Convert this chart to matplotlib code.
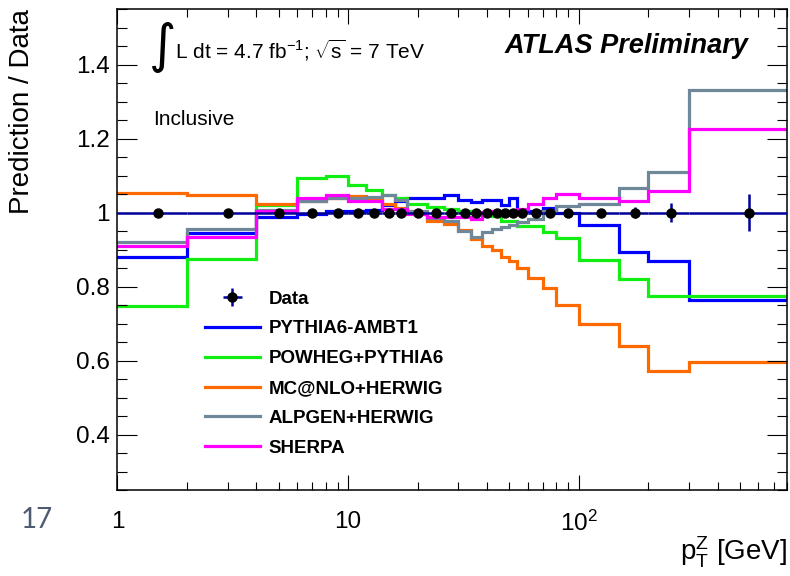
import numpy as np
import matplotlib
matplotlib.use("Agg")
import matplotlib.pyplot as plt
from matplotlib.ticker import MultipleLocator, LogLocator, FuncFormatter, NullFormatter

plt.rcParams['font.family'] = ['Liberation Sans', 'DejaVu Sans']
plt.rcParams['mathtext.fontset'] = 'custom'
plt.rcParams['mathtext.rm'] = 'Liberation Sans'
plt.rcParams['mathtext.it'] = 'Liberation Sans:italic'
plt.rcParams['mathtext.bf'] = 'Liberation Sans:bold'

# pT(Z) bin edges in GeV
edges = [0, 2, 4, 6, 8, 10, 12, 14, 16, 18, 22, 26, 30, 34, 38, 42, 46, 50,
         54, 60, 70, 80, 100, 150, 200, 300, 800]

# data points (ratio to itself) and their errors
data_x = [1.5, 3, 5, 7, 9, 11, 13, 15, 17, 20, 24, 28, 32, 36, 40, 44, 48,
          52, 57, 65, 75, 90, 125, 175, 250, 550]
data_ratio = [1.0, 1.0, 1.0, 1.0, 1.0, 1.0, 1.0, 1.0, 1.0, 1.0, 1.0, 1.0, 1.0,
              1.0, 1.0, 1.0, 1.0, 1.0, 1.0, 1.0, 1.0, 1.0, 1.0, 1.0, 1.0, 1.0]
data_err = [0.004, 0.004, 0.004, 0.004, 0.004, 0.004, 0.004, 0.004, 0.004,
            0.004, 0.004, 0.004, 0.004, 0.004, 0.004, 0.004, 0.004, 0.005,
            0.005, 0.005, 0.006, 0.006, 0.008, 0.014, 0.027, 0.049]

# prediction / data for each generator
pythia = [0.881, 0.945, 0.987, 0.997, 1.004, 1.003, 1.008, 1.020, 1.030, 1.040,
          1.038, 1.048, 1.033, 1.029, 1.033, 1.035, 1.021, 1.038, 1.005, 1.005,
          1.013, 1.000, 0.967, 0.894, 0.870, 0.764]
powheg = [0.747, 0.873, 1.021, 1.094, 1.099, 1.075, 1.061, 1.048, 1.038, 1.023,
          1.015, 1.009, 1.005, 1.000, 0.996, 0.990, 0.978, 0.978, 0.964, 0.964,
          0.946, 0.931, 0.872, 0.819, 0.773, 0.775]
mcnlo = [1.052, 1.046, 1.024, 1.030, 1.040, 1.045, 1.036, 1.024, 1.013, 0.998,
         0.978, 0.969, 0.953, 0.928, 0.910, 0.899, 0.879, 0.870, 0.850, 0.823,
         0.796, 0.751, 0.700, 0.640, 0.572, 0.597]
alpgen = [0.919, 0.955, 1.006, 1.032, 1.039, 1.039, 1.043, 1.046, 1.033, 1.005,
          0.985, 0.978, 0.951, 0.933, 0.946, 0.955, 0.960, 0.967, 0.973, 0.982,
          1.005, 1.018, 1.024, 1.067, 1.110, 1.330]
sherpa = [0.910, 0.934, 1.003, 1.038, 1.047, 1.031, 1.031, 1.009, 1.009, 0.996,
          0.987, 0.987, 0.987, 0.982, 1.002, 1.003, 1.005, 1.005, 1.009, 1.022,
          1.040, 1.051, 1.039, 1.032, 1.058, 1.226]

series = [pythia, powheg, mcnlo, alpgen, sherpa]
labels = ['PYTHIA6-AMBT1', 'POWHEG+PYTHIA6', 'MC@NLO+HERWIG', 'ALPGEN+HERWIG', 'SHERPA']
colors = ['#0000ff', '#11ee11', '#ff6a00', '#6e8799', '#ff00ff']

fig = plt.figure(figsize=(7.9, 5.76), dpi=100)
ax = fig.add_axes([117.5 / 790, 86 / 576, 669.5 / 790, 481 / 576])

handles = []
for vals, col, lab in zip(series, colors, labels):
    h = ax.stairs(vals, edges, color=col, lw=2.3, baseline=None, label=lab)
    handles.append(h)

x = np.array(data_x)
e = np.array(edges, dtype=float)
xerr = [x - e[:-1], e[1:] - x]
dh = ax.errorbar(data_x, data_ratio, xerr=xerr, yerr=data_err, fmt='o',
                 color='black', ms=6.5, ecolor='#000099', elinewidth=1.8,
                 capsize=0, label='Data', zorder=5)

ax.set_xscale('log')
ax.set_xlim(1, 800)
ax.set_ylim(0.25, 1.55)

ax.yaxis.set_major_locator(MultipleLocator(0.2))
ax.yaxis.set_minor_locator(MultipleLocator(0.05))
ax.yaxis.set_major_formatter(FuncFormatter(lambda v, p: f'{v:g}' if 0.3 < v < 1.5 else ''))
ax.xaxis.set_major_locator(LogLocator(base=10, numticks=10))
ax.xaxis.set_minor_locator(LogLocator(base=10, subs=np.arange(2, 10), numticks=20))
ax.xaxis.set_minor_formatter(NullFormatter())
xlab = {1: '1', 10: '10', 100: '10$^{2}$'}
ax.xaxis.set_major_formatter(FuncFormatter(lambda v, p: xlab.get(int(round(v)), '')))

ax.tick_params(axis='both', which='both', direction='in', top=True, right=True,
               labelsize=17.5, width=0.8)
ax.tick_params(axis='x', which='major', length=11, pad=15)
ax.tick_params(axis='x', which='minor', length=5.8)
ax.tick_params(axis='y', which='major', length=14.4, pad=5.5)
ax.tick_params(axis='y', which='minor', length=7.2)
for s in ax.spines.values():
    s.set_linewidth(1.1)

ax.legend([dh] + handles, ['Data'] + labels, loc='upper left',
          bbox_to_anchor=(0.131, 0.415), frameon=False,
          prop={'weight': 'bold', 'size': 13.5}, handlelength=2.9,
          labelspacing=0.68, borderpad=0, borderaxespad=0, handletextpad=0.5)

ax.text(0.047, 0.92, '∫', transform=ax.transAxes, fontsize=38,
        family='DejaVu Sans', va='center', ha='left')
ax.text(0.0859, 0.913, 'L dt = 4.7 fb$^{-1}$; $\\sqrt{\\mathrm{s}}$ = 7 TeV',
        transform=ax.transAxes, fontsize=15, va='center', ha='left')
ax.text(0.053, 0.771, 'Inclusive', transform=ax.transAxes, fontsize=15,
        va='center', ha='left')
ax.text(0.942, 0.923, 'ATLAS Preliminary', transform=ax.transAxes, fontsize=19.5,
        weight='bold', style='italic', va='center', ha='right')

fig.text(22 / 790, 1 - 9 / 576, 'Prediction / Data', rotation=90, fontsize=20,
         ha='center', va='top')
fig.text(787 / 790, 1 - 552 / 576, 'p$_{\\mathrm{T}}^{\\mathrm{Z}}$ [GeV]', fontsize=20,
         ha='right', va='center')
fig.text(21 / 790, 1 - 520 / 576, '17', color='#4f5b70', fontsize=20,
         family='Lato', va='center', ha='left')

fig.savefig('out.png', dpi=100)
